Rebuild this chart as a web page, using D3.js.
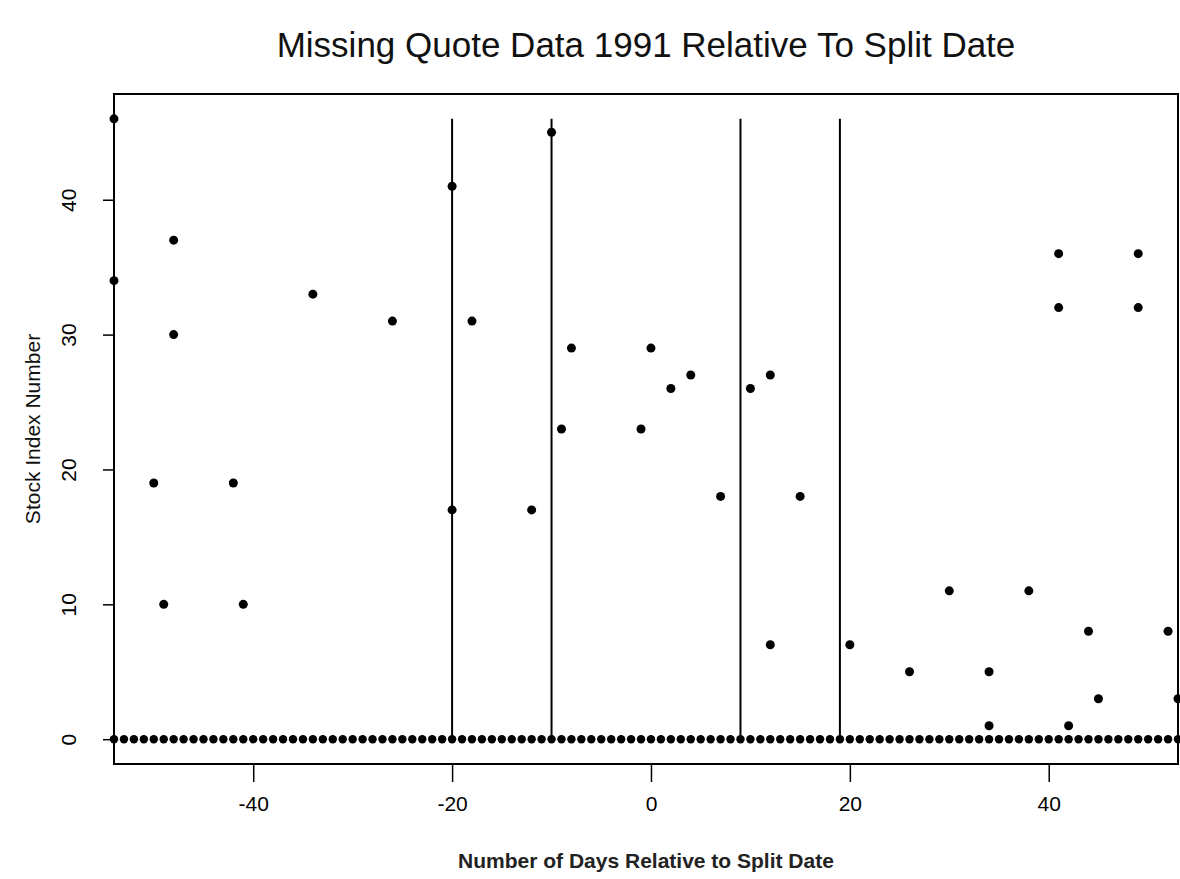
<!DOCTYPE html>
<html>
<head>
<meta charset="utf-8">
<script src="https://cdn.jsdelivr.net/npm/d3@7"></script>
<style>
  html, body { margin: 0; padding: 0; background: #fff; }
  svg { display: block; font-family: "Liberation Sans", Arial, Helvetica, sans-serif; }
</style>
</head>
<body>
<svg id="chart" width="1180" height="879"></svg>
<script>
// Missing quotes: day relative to split date and stock index number
const missingDays = [-54, -54, -50, -49, -48, -48, -42, -41, -34, -26, -20, -20, -18, -12, -10, -9, -8, -1, 0, 2, 4, 7, 10, 12, 12, 15, 20, 26, 30, 34, 34, 38, 41, 41, 42, 44, 45, 49, 49, 52, 53];
const missingStocks = [46, 34, 19, 10, 37, 30, 19, 10, 33, 31, 41, 17, 31, 17, 45, 23, 29, 23, 29, 26, 27, 18, 26, 27, 7, 18, 7, 5, 11, 5, 1, 11, 36, 32, 1, 8, 3, 36, 32, 8, 3];

// Baseline row: every day in the window at index 0
const firstDay = -54;
const lastDay = 53;
const baselineDays = d3.range(firstDay, lastDay + 1);

// Split-date markers
const markerDays = [-20, -10, 9, 19];
const markerTop = 46;

// Axis ticks
const xTicks = [-40, -20, 0, 20, 40];
const yTicks = [0, 10, 20, 30, 40];

const titleText = "Missing Quote Data 1991 Relative To Split Date";
const xLabel = "Number of Days Relative to Split Date";
const yLabel = "Stock Index Number";

const svg = d3.select("#chart");
const plotL = 114, plotR = 1178, plotT = 94, plotB = 764;

const yMax = 46;
const pad = yMax * 0.04;
const x = d3.scaleLinear().domain([firstDay, lastDay]).range([plotL, plotR]);
const y = d3.scaleLinear().domain([-pad, yMax + pad]).range([plotB, plotT]);

// Title
svg.append("text")
  .attr("x", (plotL + plotR) / 2)
  .attr("y", 57)
  .attr("text-anchor", "middle")
  .attr("font-size", 35)
  .attr("fill", "#111")
  .text(titleText);

// Marker lines
svg.append("g")
  .selectAll("line")
  .data(markerDays)
  .join("line")
  .attr("x1", d => x(d)).attr("x2", d => x(d))
  .attr("y1", y(0)).attr("y2", y(markerTop))
  .attr("stroke", "#000")
  .attr("stroke-width", 2);

// Baseline dots
svg.append("g")
  .selectAll("circle")
  .data(baselineDays)
  .join("circle")
  .attr("cx", d => x(d))
  .attr("cy", y(0))
  .attr("r", 4.2)
  .attr("fill", "#000");

// Missing quote dots
svg.append("g")
  .selectAll("circle")
  .data(missingDays.map((d, i) => [d, missingStocks[i]]))
  .join("circle")
  .attr("cx", d => x(d[0]))
  .attr("cy", d => y(d[1]))
  .attr("r", 4.5)
  .attr("fill", "#000");

// Frame
svg.append("rect")
  .attr("x", plotL).attr("y", plotT)
  .attr("width", plotR - plotL).attr("height", plotB - plotT)
  .attr("fill", "none")
  .attr("stroke", "#000")
  .attr("stroke-width", 2);

// X axis
const xAxis = d3.axisBottom(x)
  .tickValues(xTicks)
  .tickSize(18)
  .tickPadding(14)
  .tickFormat(d3.format("d"));
const gx = svg.append("g")
  .attr("transform", `translate(0,${plotB})`)
  .call(xAxis);
gx.select(".domain").attr("stroke", "#000").attr("stroke-width", 2)
  .attr("d", `M${plotL},0H${plotR}`);
gx.selectAll(".tick line").attr("stroke", "#000").attr("stroke-width", 1.5);
gx.selectAll(".tick text")
  .attr("font-size", 21)
  .attr("fill", "#000")
  .attr("font-family", "'Liberation Sans', Arial, sans-serif")
  .text(d => d < 0 ? "-" + Math.abs(d) : d);

// Y axis
const yAxis = d3.axisLeft(y)
  .tickValues(yTicks)
  .tickSize(11)
  .tickPadding(0)
  .tickFormat(d3.format("d"));
const gy = svg.append("g")
  .attr("transform", `translate(${plotL},0)`)
  .call(yAxis);
gy.select(".domain").remove();
gy.selectAll(".tick line").attr("stroke", "#000").attr("stroke-width", 1.5);
gy.selectAll(".tick text")
  .attr("font-size", 21)
  .attr("fill", "#000")
  .attr("font-family", "'Liberation Sans', Arial, sans-serif")
  .attr("text-anchor", "middle")
  .attr("dy", null)
  .attr("x", 0)
  .attr("transform", "translate(-44,0) rotate(-90)")
  .attr("dominant-baseline", "middle");

// Axis titles
svg.append("text")
  .attr("x", (plotL + plotR) / 2)
  .attr("y", 868)
  .attr("text-anchor", "middle")
  .attr("font-size", 21)
  .attr("font-weight", "bold")
  .attr("fill", "#222")
  .text(xLabel);

svg.append("text")
  .attr("transform", `translate(40,${(plotT + plotB) / 2}) rotate(-90)`)
  .attr("text-anchor", "middle")
  .attr("font-size", 21)
  .attr("fill", "#111")
  .text(yLabel);
</script>
</body>
</html>
